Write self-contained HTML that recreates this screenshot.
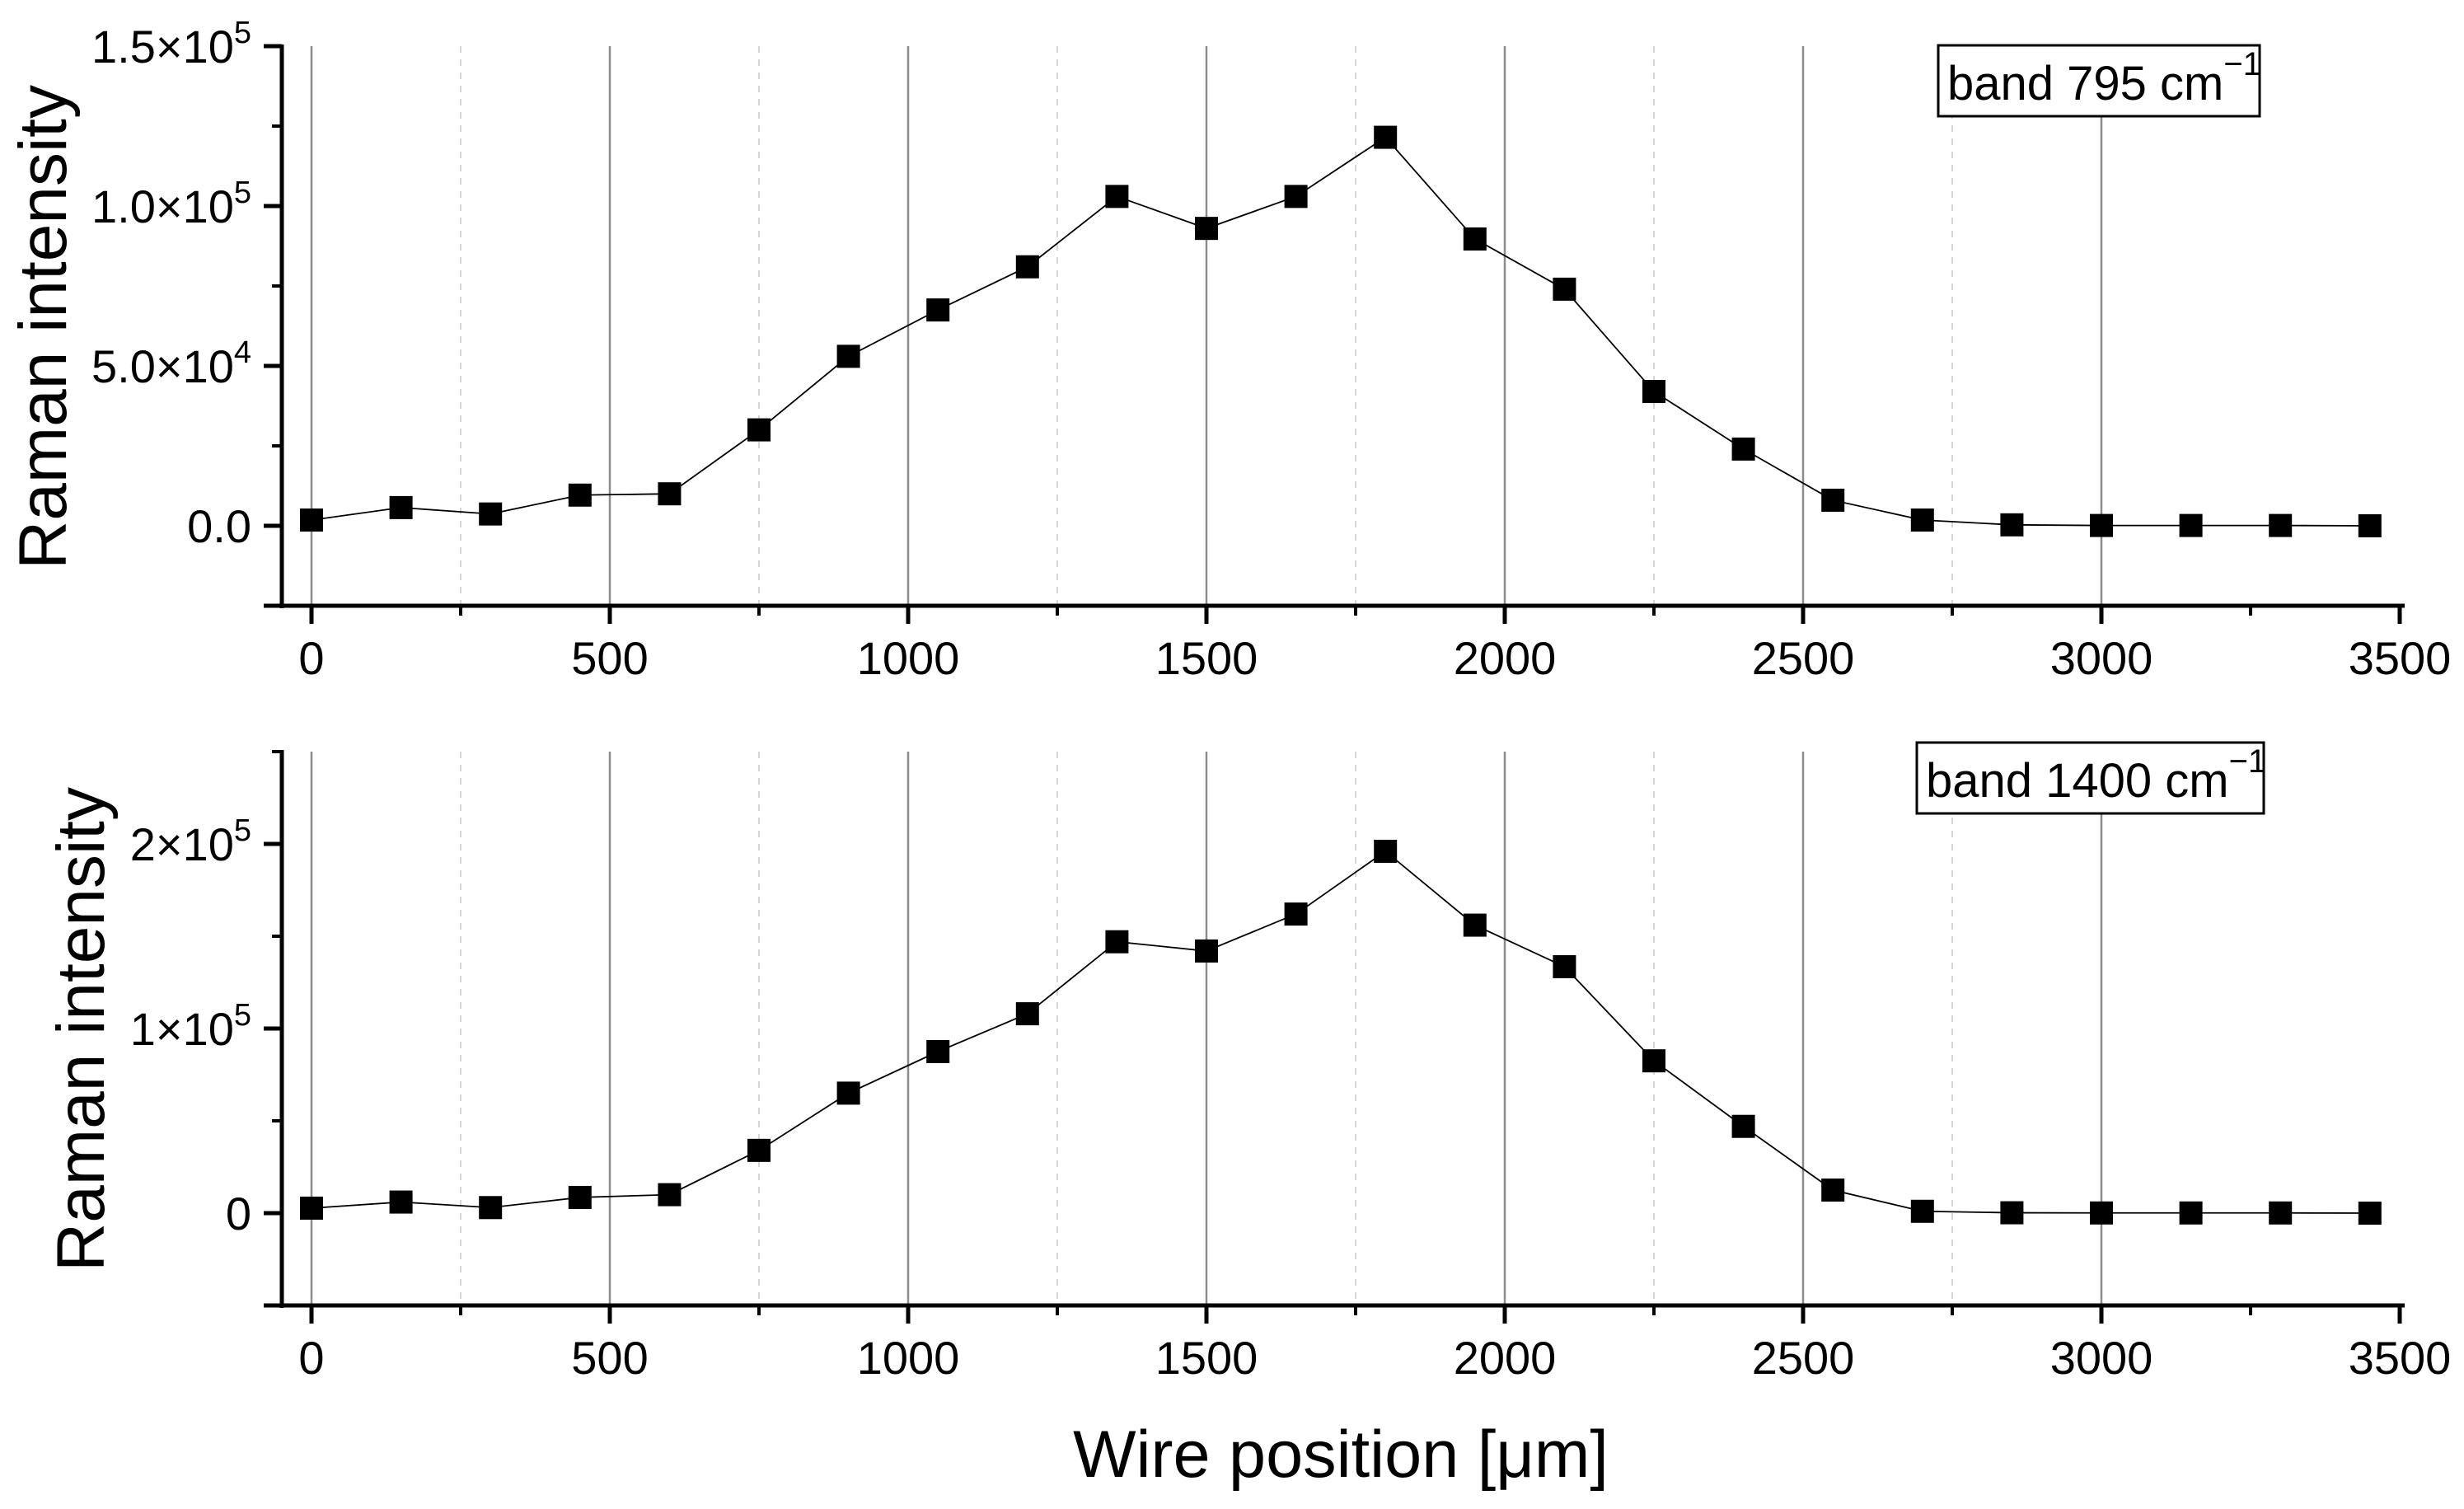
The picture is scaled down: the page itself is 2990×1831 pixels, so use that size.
<!DOCTYPE html>
<html><head><meta charset="utf-8"><style>
html,body{margin:0;padding:0;background:#fff;}
svg text{font-family:"Liberation Sans",Arial,sans-serif;fill:#000;}
</style></head><body>
<svg id="chart" width="2990" height="1826" viewBox="0 0 2990 1826" xmlns="http://www.w3.org/2000/svg"></svg>
<script>
const positions = [0,150,300,450,600,750,900,1050,1200,1350,1500,1650,1800,1950,2100,2250,2400,2550,2700,2850,3000,3150,3300,3450];
const band795 = [1800,5700,3700,9600,10000,30000,53000,67500,81000,103000,93000,103000,121500,89700,74000,42000,24000,8000,1800,300,100,100,100,0];
const band1400 = [2700,6000,3000,8500,10000,34000,65000,87500,108000,147000,142000,162000,196000,156000,133500,82500,47000,12500,1000,200,100,100,100,0];
const xTicks = [0,500,1000,1500,2000,2500,3000,3500];
const xMinorTicks = [250,750,1250,1750,2250,2750,3250];
const topYTicks = [0,50000,100000,150000];
const topYLabels = [["0.0",""],["5.0×10","4"],["1.0×10","5"],["1.5×10","5"]];
const botYTicks = [0,100000,200000];
const botYLabels = [["0",""],["1×10","5"],["2×10","5"]];

const NS="http://www.w3.org/2000/svg";
const svg=document.getElementById('chart');
function mk(tag,attrs,parent){const e=document.createElementNS(NS,tag);for(const k in attrs)e.setAttribute(k,attrs[k]);(parent||svg).appendChild(e);return e;}
const X0=378, XPX=362/500, AXL=342, AXR=2916;
function xs(v){return X0+v*XPX;}

function panel(cfg){
  const g=mk('g',{});
  
  
  const ys=v=>cfg.y0-v*cfg.ppu;
  const top=ys(cfg.ymax), bot=ys(cfg.ymin);
  xTicks.forEach(t=>{ if(t>=3500) return;
    let y1=top; if(t===3000) y1=cfg.boxBottom;
    const l=mk('line',{x1:xs(t),x2:xs(t),y1:y1,y2:bot,stroke:'#8c8c8c','stroke-width':2.5},g);
    
    
  });
  xMinorTicks.forEach(t=>{ if(t>3000) return;
    const l=mk('line',{x1:xs(t),x2:xs(t),y1:top,y2:bot,stroke:'#c8c8c8','stroke-width':1.5,'stroke-dasharray':'8,8'},g);
    
    
  });
  const ya=mk('line',{x1:AXL,x2:AXL,y1:top-2,y2:bot+3,stroke:'#000','stroke-width':5},g);
  
  
  const xa=mk('line',{x1:AXL-22,x2:AXR+2,y1:bot,y2:bot,stroke:'#000','stroke-width':5},g);
  
  
  xTicks.forEach(t=>{
    mk('line',{x1:xs(t),x2:xs(t),y1:bot,y2:bot+22,stroke:'#000','stroke-width':5},g);
    const tx=mk('text',{x:xs(t),y:bot+83,'font-size':56,'text-anchor':'middle'},g);
    tx.textContent=t;
    
    
  });
  xMinorTicks.forEach(t=>{mk('line',{x1:xs(t),x2:xs(t),y1:bot,y2:bot+12,stroke:'#000','stroke-width':4},g);});
  cfg.yt.forEach((t,i)=>{
    mk('line',{x1:AXL-22,x2:AXL,y1:ys(t),y2:ys(t),stroke:'#000','stroke-width':5},g);
    const tx=mk('text',{x:305,y:ys(t)+20,'font-size':56,'text-anchor':'end'},g);
    
    
    const a=mk('tspan',{},tx); a.textContent=cfg.yl[i][0];
    if(cfg.yl[i][1]){const b=mk('tspan',{'font-size':38,dy:-24},tx); b.textContent=cfg.yl[i][1];}
  });
  cfg.minorY.forEach(t=>{mk('line',{x1:AXL-12,x2:AXL,y1:ys(t),y2:ys(t),stroke:'#000','stroke-width':4},g);});
  const pts=positions.map((p,i)=>xs(p)+','+ys(cfg.data[i])).join(' ');
  const pl=mk('polyline',{points:pts,fill:'none',stroke:'#000','stroke-width':1.8},g);
  
  
  positions.forEach((p,i)=>{
    const r=mk('rect',{x:xs(p)-14,y:ys(cfg.data[i])-14,width:28,height:28,fill:'#000'},g);
    
    
  });
  const lb=mk('g',{},g);
  
  
  mk('rect',{x:cfg.box[0],y:cfg.box[1],width:cfg.box[2],height:cfg.box[3],fill:'#fff',stroke:'#000','stroke-width':3},lb);
  const lt=mk('text',{x:cfg.box[0]+11,y:cfg.box[1]+66,'font-size':58},lb);
  const a=mk('tspan',{},lt); a.textContent=cfg.label;
  const b=mk('tspan',{'font-size':40,dy:-30},lt); b.textContent='−1';
  const yt=mk('text',{x:0,y:0,'font-size':82,'text-anchor':'middle',transform:`translate(${cfg.titleX},${cfg.titleY}) rotate(-90)`},g);
  yt.textContent='Raman intensity';
  
  
}
panel({name:'panel-band-795',y0:638,ppu:388/100000,ymin:-25000,ymax:150000,yt:topYTicks,yl:topYLabels,minorY:[-25000,25000,75000,125000],data:band795,box:[2352,55,390,86],boxBottom:141,label:'band 795 cm',titleX:80,titleY:397});
panel({name:'panel-band-1400',y0:1472,ppu:224/100000,ymin:-50000,ymax:250000,yt:botYTicks,yl:botYLabels,minorY:[-50000,50000,150000,250000],data:band1400,box:[2326,901,421,86],boxBottom:987,label:'band 1400 cm',titleX:126,titleY:1249});
const xt=mk('text',{x:1627,y:1792,'font-size':81,'text-anchor':'middle'});
xt.textContent='Wire position [μm]';


</script>
</body></html>
